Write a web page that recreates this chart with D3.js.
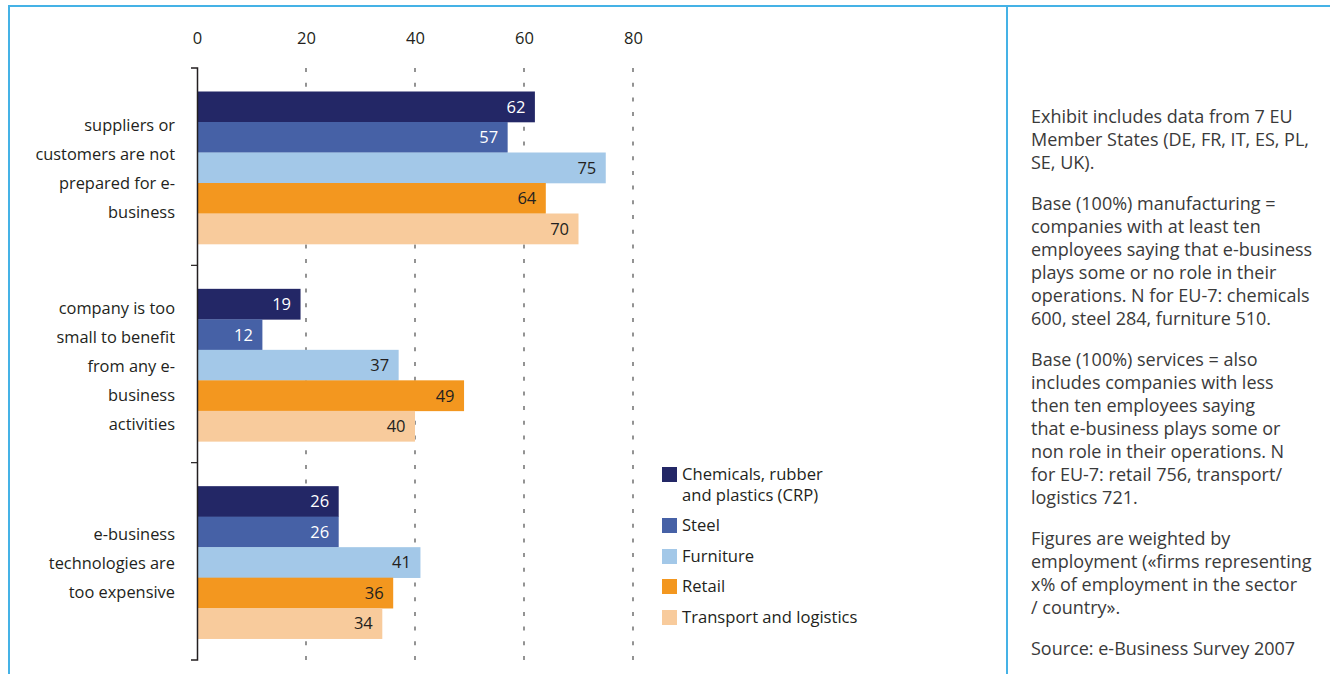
<!DOCTYPE html>
<html>
<head>
<meta charset="utf-8">
<script src="https://cdn.jsdelivr.net/npm/d3@7"></script>
<style>
  html, body { margin: 0; padding: 0; background: #fff; }
  svg text { font-family: "Open Sans", "Noto Sans", sans-serif; fill: #231f20; }
</style>
</head>
<body>
<svg id="chart" width="1330" height="674"></svg>
<script>
// Reasons for not using e-business, % of companies by sector
const categories = ["suppliers", "small", "expensive"];
const categoryLines = [
  ["suppliers or", "customers are not", "prepared for e-", "business"],
  ["company is too", "small to benefit", "from any e-", "business", "activities"],
  ["e-business", "technologies are", "too expensive"]
];
const seriesNames = ["Chemicals, rubber and plastics (CRP)", "Steel", "Furniture", "Retail", "Transport and logistics"];
const legendLines = [["Chemicals, rubber", "and plastics (CRP)"], ["Steel"], ["Furniture"], ["Retail"], ["Transport and logistics"]];
const seriesColors = ["#232766", "#4661a6", "#a3c8e8", "#f3971f", "#f8cb9c"];
const labelColors = ["#ffffff", "#ffffff", "#231f20", "#231f20", "#231f20"];

const crp       = [62, 19, 26];
const steel     = [57, 12, 26];
const furniture = [75, 37, 41];
const retail    = [64, 49, 36];
const transport = [70, 40, 34];
const seriesValues = [crp, steel, furniture, retail, transport];

const xTicks = [0, 20, 40, 60, 80];

const notes = [
  ["Exhibit includes data from 7 EU", "Member States (DE, FR, IT, ES, PL,", "SE, UK)."],
  ["Base (100%) manufacturing =", "companies with at least ten", "employees saying that e-business", "plays some or no role in their", "operations. N for EU-7: chemicals", "600, steel 284, furniture 510."],
  ["Base (100%) services = also", "includes companies with less", "then ten employees saying", "that e-business plays some or", "non role in their operations. N", "for EU-7: retail 756, transport/", "logistics 721."],
  ["Figures are weighted by", "employment («firms representing", "x% of employment in the sector", "/ country»."],
  ["Source: e-Business Survey 2007"]
];

const svg = d3.select("#chart");

// frame
const frameColor = "#45b2e6";
svg.append("path")
  .attr("d", "M9,674 V6 H1330")
  .attr("fill", "none").attr("stroke", frameColor).attr("stroke-width", 2);
svg.append("line")
  .attr("x1", 1007).attr("x2", 1007).attr("y1", 6).attr("y2", 674)
  .attr("stroke", frameColor).attr("stroke-width", 2);

// scales
const x = d3.scaleLinear().domain([0, 80]).range([197, 633]);
const y0 = d3.scaleBand().domain(categories).range([68, 660]);
const y1 = d3.scaleBand().domain(d3.range(seriesNames.length)).range([23.5, 176]);

// grid lines
svg.append("g").selectAll("line")
  .data(xTicks.filter(d => d > 0))
  .join("line")
  .attr("x1", d => x(d)).attr("x2", d => x(d))
  .attr("y1", 68).attr("y2", 660)
  .attr("stroke", "#4d4d4d").attr("stroke-width", 1.2)
  .attr("stroke-dasharray", "4,10.7");

// top axis labels
const xAxis = d3.axisTop(x).tickValues(xTicks).tickSize(0).tickPadding(0);
const gx = svg.append("g").attr("transform", "translate(0,44)").call(xAxis);
gx.attr("font-family", null).attr("font-size", 16.5);
gx.select(".domain").remove();
gx.selectAll("text").style("fill", "#231f20");

// bars
const groups = svg.append("g").selectAll("g")
  .data(categories)
  .join("g")
  .attr("transform", d => `translate(0,${y0(d)})`);

groups.each(function(cat, ci) {
  const g = d3.select(this);
  const rows = seriesValues.map((vals, si) => ({ si, v: vals[ci] }));
  g.selectAll("rect")
    .data(rows)
    .join("rect")
    .attr("x", x(0))
    .attr("y", d => y1(d.si))
    .attr("width", d => x(d.v) - x(0))
    .attr("height", y1.bandwidth() + 0.3)
    .attr("fill", d => seriesColors[d.si]);
  g.selectAll("text.val")
    .data(rows)
    .join("text")
    .attr("class", "val")
    .attr("x", d => x(d.v) - 9.5)
    .attr("y", d => y1(d.si) + y1.bandwidth() / 2)
    .attr("dy", "0.36em")
    .attr("text-anchor", "end")
    .attr("font-size", 16.5)
    .style("fill", d => labelColors[d.si])
    .text(d => d.v);

  // category label lines
  const lines = categoryLines[ci];
  const lh = 29;
  const mid = y0.bandwidth() / 2 + 2;
  g.selectAll("text.cat")
    .data(lines)
    .join("text")
    .attr("class", "cat")
    .attr("x", 175)
    .attr("y", (d, i) => mid + (i - (lines.length - 1) / 2) * lh)
    .attr("dy", "0.36em")
    .attr("text-anchor", "end")
    .attr("font-size", 16.4)
    .text(d => d);
});

// value axis line with end ticks
const axisY = y0.range();
svg.append("path")
  .attr("d", `M191,${axisY[0]}H197.5V${axisY[1]}H191`)
  .attr("fill", "none").attr("stroke", "#231f20").attr("stroke-width", 1.5);
svg.append("g").selectAll("line")
  .data(categories.slice(1))
  .join("line")
  .attr("x1", 191).attr("x2", 197)
  .attr("y1", d => y0(d)).attr("y2", d => y0(d))
  .attr("stroke", "#231f20").attr("stroke-width", 1.2);

// legend
const legendTop = [467, 518, 549, 579, 610];
const lg = svg.append("g");
seriesNames.forEach((name, i) => {
  const row = lg.append("g").attr("transform", `translate(662,${legendTop[i]})`);
  row.append("rect").attr("width", 15).attr("height", 15).attr("fill", seriesColors[i]);
  row.selectAll("text")
    .data(legendLines[i])
    .join("text")
    .attr("x", 20)
    .attr("y", (d, j) => 7.5 + j * 21)
    .attr("dy", "0.36em")
    .attr("font-size", 16.6)
    .text(d => d);
});

// notes column
const nt = svg.append("g").attr("transform", "translate(1031,0)");
let ny = 117;
notes.forEach(par => {
  par.forEach(line => {
    nt.append("text")
      .attr("x", 0).attr("y", ny).attr("dy", "0.36em")
      .attr("font-size", 18)
      .style("fill", "#3a3a3a")
      .text(line);
    ny += 23;
  });
  ny += 18;
});
</script>
</body>
</html>
